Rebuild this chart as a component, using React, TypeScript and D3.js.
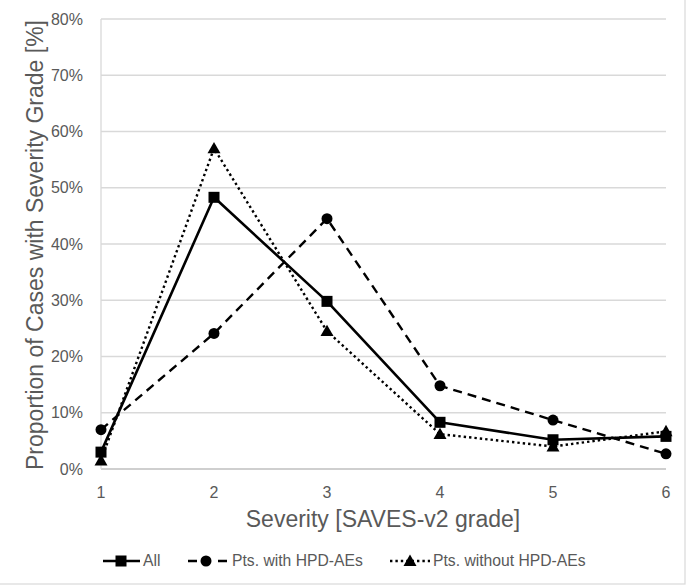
import React from "react";
import * as d3 from "d3";

const grades = [1, 2, 3, 4, 5, 6];
const allValues = [3.0, 48.3, 29.8, 8.3, 5.2, 5.8];
const hpdValues = [7.0, 24.1, 44.5, 14.8, 8.7, 2.7];
const noHpdValues = [1.5, 57.0, 24.5, 6.2, 4.0, 6.7];
const yTicks = [0, 10, 20, 30, 40, 50, 60, 70, 80];
const seriesNames = ["All", "Pts. with HPD-AEs", "Pts. without HPD-AEs"];

const W = 688;
const H = 587;
const FONT = "'Liberation Sans', Arial, sans-serif";
const GREY = "#595959";

export default function App() {
  const x = d3.scaleLinear().domain([1, 6]).range([101, 666]);
  const y = d3.scaleLinear().domain([0, 80]).range([469, 19]);
  const line = d3
    .line<number>()
    .x((_, i) => x(grades[i]))
    .y((d) => y(d));

  const series = [
    { name: seriesNames[0], values: allValues, dash: undefined as string | undefined, width: 2.6, marker: "square" },
    { name: seriesNames[1], values: hpdValues, dash: "9,6", width: 2.4, marker: "circle" },
    { name: seriesNames[2], values: noHpdValues, dash: "2.4,3", width: 2.4, marker: "triangle" },
  ];

  const marker = (type: string, cx: number, cy: number, key: string | number) => {
    if (type === "square") return <rect key={key} x={cx - 5.5} y={cy - 5.5} width={11} height={11} fill="#000" />;
    if (type === "circle") return <circle key={key} cx={cx} cy={cy} r={5.5} fill="#000" />;
    const s = 6.5;
    return (
      <path
        key={key}
        d={`M${cx},${cy - s}L${cx + s},${cy + s * 0.75}L${cx - s},${cy + s * 0.75}Z`}
        fill="#000"
      />
    );
  };

  const legendItems = [
    { x0: 103, x1: 140, mx: 121, textX: 143 },
    { x0: 188, x1: 227, mx: 206, textX: 232 },
    { x0: 390, x1: 430, mx: 410, textX: 433 },
  ];

  return (
    <svg
      width={W}
      height={H}
      style={{ position: "absolute", left: 0, top: 0, background: "#fff" }}
      fontFamily={FONT}
    >
      <rect x={-1} y={-1} width={686} height={585} fill="#fff" stroke="#d9d9d9" strokeWidth={1.2} />
      {yTicks.map((t) => (
        <g key={t}>
          <line x1={x(1)} x2={x(6)} y1={y(t)} y2={y(t)} stroke={t === 0 ? "#bfbfbf" : "#d9d9d9"} strokeWidth={1.3} />
          <text x={83} y={y(t)} dy="0.35em" textAnchor="end" fontSize={16} fill={GREY}>
            {t}%
          </text>
        </g>
      ))}
      <line x1={x(1)} x2={x(1)} y1={y(0)} y2={y(80)} stroke="#d9d9d9" strokeWidth={1.3} />
      {grades.map((g) => (
        <text key={g} x={x(g)} y={498} textAnchor="middle" fontSize={16} fill={GREY}>
          {g}
        </text>
      ))}
      <text x={383} y={527} textAnchor="middle" fontSize={23} fill={GREY}>
        Severity [SAVES-v2 grade]
      </text>
      <text
        transform={`translate(43,245) rotate(-90)`}
        textAnchor="middle"
        fontSize={23}
        fill={GREY}
      >
        Proportion of Cases with Severity Grade [%]
      </text>
      {series.map((s, si) => (
        <g key={s.name}>
          <path
            d={line(s.values) || ""}
            fill="none"
            stroke="#000"
            strokeWidth={s.width}
            strokeDasharray={s.dash}
            strokeLinejoin="round"
          />
          {s.values.map((v, i) => marker(s.marker, x(grades[i]), y(v), `${si}-${i}`))}
        </g>
      ))}
      {series.map((s, si) => {
        const L = legendItems[si];
        const cy = 561;
        return (
          <g key={"leg" + si}>
            <line
              x1={L.x0}
              x2={L.x1}
              y1={cy}
              y2={cy}
              stroke="#000"
              strokeWidth={s.width}
              strokeDasharray={s.dash === "9,6" ? "9,21" : s.dash}
            />
            {marker(s.marker, L.mx, cy, "lm" + si)}
            <text x={L.textX} y={cy} dy="0.35em" fontSize={15.7} fill={GREY}>
              {s.name}
            </text>
          </g>
        );
      })}
    </svg>
  );
}
